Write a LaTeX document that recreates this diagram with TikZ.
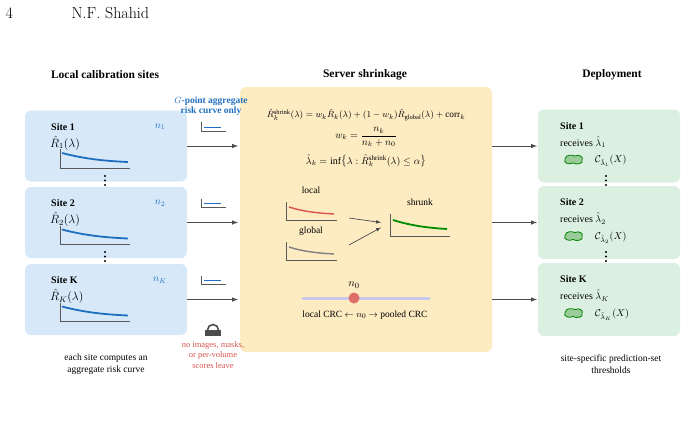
\documentclass[tikz,border=0pt]{standalone}
\usepackage{fontspec}
\setmainfont{Liberation Serif}
\newfontfamily\lmfont{Latin Modern Roman}
\usepackage{amsmath}
\begin{document}
\begin{tikzpicture}[x=1pt,y=-1pt,
  axis/.style={draw=black!65,line width=0.8pt},
  arr/.style={draw=black!70,line width=1pt,-{latex}},
  ttl/.style={font=\fontsize{11.5}{13}\selectfont\bfseries},
  txt/.style={font=\fontsize{9.5}{11.5}\selectfont,align=center,inner sep=1pt},
  sitelbl/.style={font=\fontsize{10}{11}\selectfont\bfseries,anchor=west,inner sep=1pt}]
\useasboundingbox (0,0) rectangle (698,431);
\definecolor{lb}{HTML}{D7E9F9}
\definecolor{gb}{HTML}{DCF0E2}
\definecolor{sv}{HTML}{FDEBC2}
\definecolor{cblue}{HTML}{1F6FC0}
\definecolor{cred}{HTML}{D9534F}
% header
\node[font=\lmfont\fontsize{16}{17}\selectfont,anchor=west] (pg) at (2,13) {4};
\node[font=\lmfont\fontsize{16}{17}\selectfont,anchor=west] (au) at (68,13) {N.F. Shahid};
% titles
\node[ttl] (t1) at (105,75) {Local calibration sites};
\node[ttl] (t2) at (365,75) {Server shrinkage};
\node[ttl] (t3) at (612,75) {Deployment};
% server box
\node[fill=sv,rounded corners=6pt,minimum width=252pt,minimum height=265pt,inner sep=0] (srv) at (366,219.5) {};
% boxes
\foreach \i/\y/\lab/\sub in {1/146/Site 1/1,2/222.5/Site 2/2,3/299.5/Site K/K}{
  \node[fill=lb,rounded corners=6pt,minimum width=162pt,minimum height=71pt,inner sep=0] (L\i) at (106,\y) {};
  \node[sitelbl] (Ls\i) at (50,\y-19) {\lab};
  \node[anchor=west,font=\fontsize{12}{13}\selectfont,inner sep=1pt] (Lr\i) at (49,\y-3) {$\hat R_{\sub}(\lambda)$};
  \node[font=\fontsize{10}{11}\selectfont,text=cblue,inner sep=1pt] (Ln\i) at (160,\y-19) {$n_{\sub}$};
  \draw[axis] (60,\y+3) -- (60,\y+22) -- (130,\y+22);
  \draw[cblue,line width=1.8pt] (62,\y+7) .. controls (85,\y+13) and (105,\y+15) .. (128,\y+16);
  \node[fill=gb,rounded corners=6pt,minimum width=142pt,minimum height=73pt,inner sep=0] (R\i) at (609,\y) {};
  \node[sitelbl] (Rs\i) at (559,\y-20) {\lab};
  \node[anchor=west,font=\fontsize{10}{11}\selectfont,inner sep=1pt] (Rr\i) at (559,\y-4) {receives $\hat\lambda_{\sub}$};
  \draw[green!50!black,fill=green!50!black!40,line width=0.8pt] (565,\y+13) .. controls (566,\y+8) and (572,\y+9) .. (575,\y+10) .. controls (579,\y+8) and (584,\y+11) .. (582,\y+14) .. controls (584,\y+18) and (576,\y+19) .. (573,\y+17) .. controls (569,\y+19) and (563,\y+17) .. (565,\y+13) -- cycle;
  \node[anchor=west,font=\fontsize{10}{11}\selectfont,inner sep=1pt] (Rc\i) at (594,\y+15) {$\mathcal{C}_{\hat\lambda_{\sub}}(X)$};
  \coordinate (ain\i) at (187,\y);
  \coordinate (aout\i) at (238,\y);
  \coordinate (bin\i) at (492,\y);
  \coordinate (bout\i) at (537,\y);
  \draw[arr] (ain\i) -- (aout\i);
  \draw[arr] (bin\i) -- (bout\i);
  \draw[black!65,line width=0.6pt] (201,\y-24) -- (201,\y-15) -- (226,\y-15);
  \draw[cblue,line width=1pt] (204,\y-19) -- (221,\y-19);
}
% dots
\foreach \x in {105,606}{
  \foreach \y in {176,180.5,185,252,256.5,261}{\fill (\x,\y) circle (1.2pt);}
}
% G-point label
\node[txt,font=\fontsize{9.5}{10.5}\selectfont\bfseries,text=cblue] (gp) at (211,106) {$G$-point aggregate\\risk curve only};
% lock
\fill[black!70] (205,330) rectangle (221,336);
\draw[black!70,line width=1.6pt] (207.5,330) arc (180:360:5.5);
\node[txt,text=cred,font=\fontsize{8.5}{10.5}\selectfont] (nolbl) at (213,355) {no images, masks,\\or per-volume\\scores leave};
% captions
\node[txt] (cap1) at (106,364) {each site computes an\\aggregate risk curve};
\node[txt] (cap2) at (611,364) {site-specific prediction-set\\thresholds};
% formulas
\node[font=\fontsize{9.3}{10}\selectfont] (f1) at (366,115) {$\hat R_k^{\text{shrink}}(\lambda)=w_k\hat R_k(\lambda)+(1-w_k)\hat R_{\text{global}}(\lambda)+\mathrm{corr}_k$};
\node[font=\fontsize{10}{11}\selectfont] (f2) at (366,137) {$w_k=\dfrac{n_k}{n_k+n_0}$};
\node[font=\fontsize{10}{11}\selectfont] (f3) at (366,161) {$\hat\lambda_k=\inf\bigl\{\lambda:\hat R_k^{\text{shrink}}(\lambda)\le\alpha\bigr\}$};
% mini plots
\node[txt] (loc) at (311,190) {local};
\draw[axis] (286,202) -- (286,220) -- (337,220);
\draw[cred,line width=1.4pt] (289,207) .. controls (305,212) and (318,213) .. (334,214);
\node[txt] (glo) at (311,231) {global};
\draw[axis] (286,242) -- (286,260) -- (337,260);
\draw[gray,line width=1.4pt] (289,247) .. controls (305,252) and (318,253) .. (334,254);
\node[txt] (shr) at (420,202) {shrunk};
\draw[axis] (390,214) -- (390,236) -- (450,236);
\draw[green!55!black,line width=1.8pt] (393,220) .. controls (412,226) and (430,228) .. (447,229);
\coordinate (la) at (349,218);
\coordinate (ga) at (349,245);
\draw[black!70,line width=0.7pt,-{latex}] (la) -- (381,222.5);
\draw[black!70,line width=0.7pt,-{latex}] (ga) -- (381,227.5);
% slider
\coordinate (s1) at (303,298);
\coordinate (s2) at (429,298);
\draw[gray!55!blue!30!white,line width=3pt,line cap=round] (s1) -- (s2);
\fill[cred!85] (354,298) circle (5.5pt);
\node[font=\fontsize{11}{12}\selectfont] (n0) at (354,285) {$n_0$};
\node[txt,font=\fontsize{9.5}{10.5}\selectfont] (crc) at (365,315) {local CRC $\leftarrow$ $n_0$ $\rightarrow$ pooled CRC};
\end{tikzpicture}
\end{document}
